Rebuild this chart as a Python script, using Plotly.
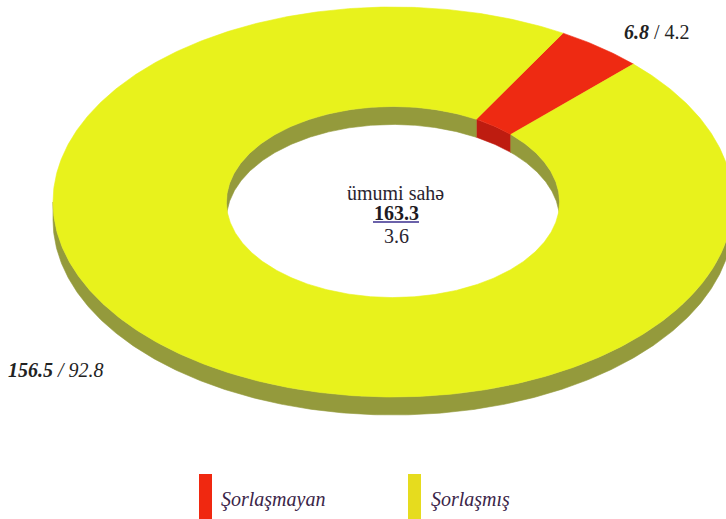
import numpy as np
import plotly.graph_objects as go

# ---------------- data ----------------
categories = ["Şorlaşmayan", "Şorlaşmış"]
areas = [6.8, 156.5]          # area values (bold figures)
shares = [4.2, 92.8]          # percent values
center_title = "ümumi sahə"
total_label = "163.3"
center_extra = "3.6"

# ---------------- style ----------------
colors_top = ["#EE2A12", "#E8F21C"]
colors_side = ["#BE1C10", "#949A3C"]
legend_colors = ["#F02810", "#E6DC1E"]

W, H = 726, 519
CX, CY = 393, 202      # centre of the top face (pixels)
RX, RY = 340, 195      # outer radii of the top face
HOLE = 0.49            # inner / outer ratio
DEPTH = 18             # thickness of the 3-D side
START = 60             # start angle (deg, ccw from east), slices run clockwise

total = sum(areas)
bounds = []
a = START
for v in areas:
    span = v / total * 360.0
    bounds.append((a, a - span))
    a -= span


def arc(t0, t1, scale, dy=0.0, n=None):
    if n is None:
        n = max(8, int(abs(t1 - t0) * 2))
    t = np.radians(np.linspace(t0, t1, n))
    return CX + RX * scale * np.cos(t), CY - RY * scale * np.sin(t) + dy


def runs(t_hi, t_lo, front):
    """Parts of [t_lo, t_hi] visible on the front (sin<0) or back (sin>0)."""
    out = []
    for k in range(-3, 3):
        lo = (180 if front else 0) + 360 * k
        hi = lo + 180
        a0, a1 = max(lo, t_lo), min(hi, t_hi)
        if a1 > a0:
            out.append((a1, a0))
    return out


fig = go.Figure()


def poly(xs, ys, color):
    fig.add_trace(go.Scatter(
        x=np.append(xs, xs[0]), y=np.append(ys, ys[0]), mode="lines",
        fill="toself", fillcolor=color, line=dict(color=color, width=0.6),
        hoverinfo="skip", showlegend=False))


# outer side walls (front half)
for i, (t_hi, t_lo) in enumerate(bounds):
    for r_hi, r_lo in runs(t_hi, t_lo, front=True):
        x1, y1 = arc(r_hi, r_lo, 1.0)
        x2, y2 = arc(r_lo, r_hi, 1.0, DEPTH)
        poly(np.concatenate([x1, x2]), np.concatenate([y1, y2]), colors_side[i])

# inner side walls (back half, seen through the hole)
for i, (t_hi, t_lo) in enumerate(bounds):
    for r_hi, r_lo in runs(t_hi, t_lo, front=False):
        x1, y1 = arc(r_hi, r_lo, HOLE)
        x2, y2 = arc(r_lo, r_hi, HOLE, DEPTH)
        poly(np.concatenate([x1, x2]), np.concatenate([y1, y2]), colors_side[i])

# top faces
for i, (t_hi, t_lo) in enumerate(bounds):
    x1, y1 = arc(t_hi, t_lo, 1.0)
    x2, y2 = arc(t_lo, t_hi, HOLE)
    poly(np.concatenate([x1, x2]), np.concatenate([y1, y2]), colors_top[i])

SERIF = "Liberation Serif, serif"
ann = []
# centre text
ann.append(dict(x=395, y=193, text=center_title, font=dict(size=20, color="#2a2430")))
ann.append(dict(x=396, y=213, text=f"<b>{total_label}</b>", font=dict(size=20, color="#1e1a22")))
ann.append(dict(x=396, y=236, text=center_extra, font=dict(size=20, color="#2a2430")))
# slice labels
ann.append(dict(x=622, y=32, xanchor="left",
                text=f"<b><i>{areas[0]}</i></b> / {shares[0]}",
                font=dict(size=20, color="#222222")))
ann.append(dict(x=6, y=370, xanchor="left",
                text=f"<b><i>{areas[1]}</i></b><i> / {shares[1]}</i>",
                font=dict(size=20, color="#222222")))
# legend text
ann.append(dict(x=219, y=499, xanchor="left", text=f"<i>{categories[0]}</i>",
                font=dict(size=20, color="#3b2548")))
ann.append(dict(x=429, y=499, xanchor="left", text=f"<i>{categories[1]}</i>",
                font=dict(size=20, color="#3b2548")))
for d in ann:
    d.update(xref="x", yref="y", showarrow=False, yanchor="middle")
    d.setdefault("xanchor", "center")
    d["font"]["family"] = SERIF

shapes = [
    dict(type="line", x0=373, x1=419, y0=222, y1=222, line=dict(color="#3a2e8e", width=1.5)),
    dict(type="rect", x0=199, x1=212, y0=474, y1=519, fillcolor=legend_colors[0], line=dict(width=0)),
    dict(type="rect", x0=408, x1=421, y0=474, y1=519, fillcolor=legend_colors[1], line=dict(width=0)),
]
for s in shapes:
    s.update(xref="x", yref="y")

fig.update_layout(
    width=W, height=H, margin=dict(l=0, r=0, t=0, b=0),
    font=dict(family=SERIF),
    paper_bgcolor="white", plot_bgcolor="white",
    xaxis=dict(range=[0, W], visible=False, fixedrange=True),
    yaxis=dict(range=[H, 0], visible=False, fixedrange=True),
    annotations=ann, shapes=shapes, showlegend=False,
)

fig.write_html("out.html", post_script="document.body.style.margin='0';",
               config={"displayModeBar": False})
